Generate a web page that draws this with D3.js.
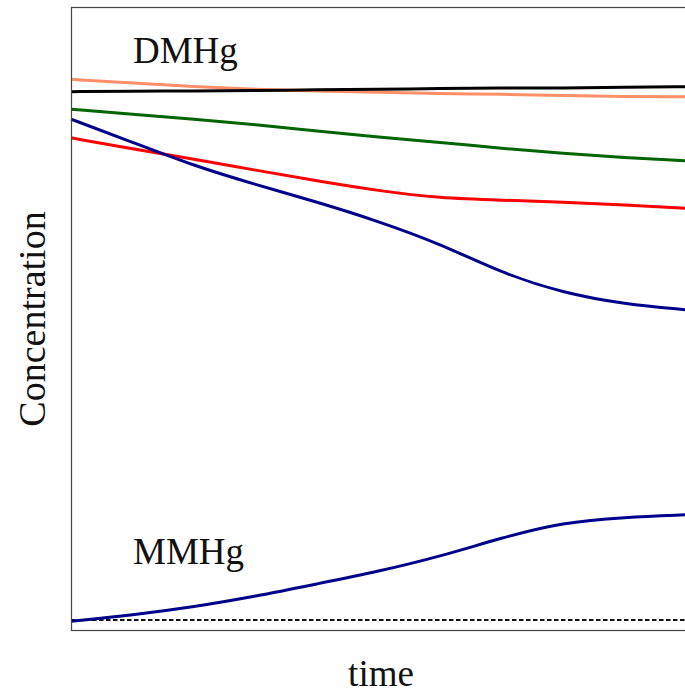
<!DOCTYPE html>
<html>
<head>
<meta charset="utf-8">
<script src="https://cdn.jsdelivr.net/npm/d3@7"></script>
<style>
  html, body { margin: 0; padding: 0; background: #fff; }
  svg { display: block; }
  text { font-family: "Liberation Serif", "DejaVu Serif", serif; fill: #111; }
</style>
</head>
<body>
<svg id="chart" width="685" height="694"></svg>
<script>
// ---- data ----
const time = [0, 1, 2, 3, 4, 5, 6, 7, 8, 9, 10];
const salmonSeries = [88.4, 87.8, 87.2, 86.8, 86.5, 86.3, 86.1, 86.0, 85.8, 85.6, 85.6];
const blackSeries  = [86.4, 86.5, 86.5, 86.6, 86.7, 86.8, 86.9, 87.0, 87.0, 87.1, 87.2];
const greenSeries  = [83.6, 82.8, 82.0, 81.1, 80.1, 79.1, 78.3, 77.3, 76.5, 75.8, 75.3];
const redSeries    = [79.0, 77.2, 75.6, 73.8, 72.1, 70.5, 69.3, 69.0, 68.7, 68.2, 67.7];
const blueUpper    = [82.0, 78.3, 74.5, 71.5, 68.7, 65.6, 62.0, 57.3, 54.1, 52.3, 51.4];
const blueLower    = [1.4, 2.4, 3.7, 5.4, 7.4, 9.4, 11.8, 14.8, 17.3, 18.1, 18.5];
const baseline     = [1.6, 1.6];
const baselineTime = [0, 10];
const labels = ["DMHg", "MMHg"];
const xTitle = "time";
const yTitle = "Concentration";

// ---- layout ----
const svg = d3.select("#chart");
const mLeft = 71, mRight = 686, mTop = 7, mBottom = 630;

const x = d3.scaleLinear().domain([0, 10]).range([mLeft, mRight]);
const y = d3.scaleLinear().domain([0, 100]).range([mBottom, mTop]);

const line = d3.line()
  .x(d => x(d[0]))
  .y(d => y(d[1]))
  .curve(d3.curveBasis);

const series = [
  { vals: salmonSeries, color: "#FF8F68" },
  { vals: greenSeries, color: "#006400" },
  { vals: redSeries, color: "#FF0000" },
  { vals: blueUpper, color: "#00008B" },
  { vals: blueLower, color: "#00008B" },
  { vals: blackSeries, color: "#000000" }
];

// dashed baseline
svg.append("path")
  .attr("d", line(baselineTime.map((t, i) => [t, baseline[i]])))
  .attr("fill", "none")
  .attr("stroke", "#111")
  .attr("stroke-width", 2)
  .attr("stroke-dasharray", "4.5,2.5");

series.forEach(s => {
  svg.append("path")
    .attr("d", line(time.map((t, i) => [t, s.vals[i]])))
    .attr("fill", "none")
    .attr("stroke", s.color)
    .attr("stroke-width", 3);
});

// frame
svg.append("rect")
  .attr("x", mLeft + 0.5).attr("y", mTop + 0.5)
  .attr("width", mRight + 20 - mLeft).attr("height", mBottom - mTop)
  .attr("fill", "none")
  .attr("stroke", "#444")
  .attr("stroke-width", 1.2);

// labels
svg.append("text").attr("x", 133).attr("y", 63)
  .attr("font-size", 37).text(labels[0]);
svg.append("text").attr("x", 133).attr("y", 564)
  .attr("font-size", 37).text(labels[1]);

svg.append("text")
  .attr("x", 381).attr("y", 686)
  .attr("text-anchor", "middle")
  .attr("font-size", 37).text(xTitle);

svg.append("text")
  .attr("transform", "translate(45,319) rotate(-90)")
  .attr("text-anchor", "middle")
  .attr("font-size", 38).text(yTitle);
</script>
</body>
</html>
